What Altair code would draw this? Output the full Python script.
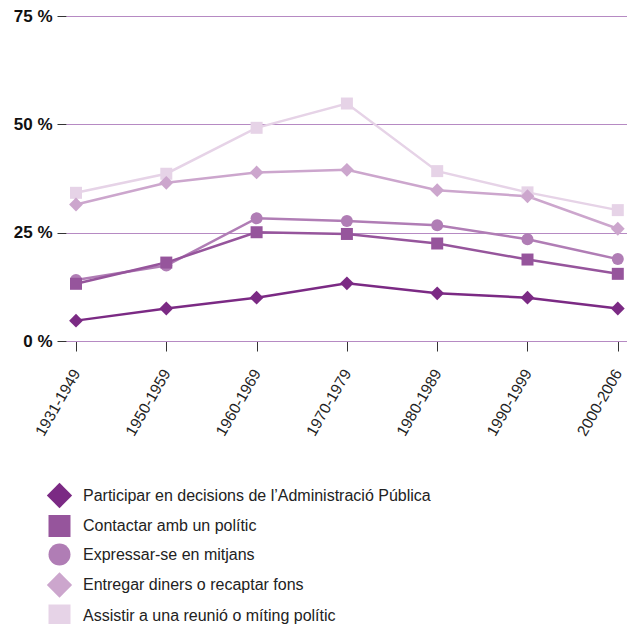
import altair as alt
import pandas as pd

periods = ["1931-1949", "1950-1959", "1960-1969", "1970-1979", "1980-1989", "1990-1999", "2000-2006"]

series = [
    "Participar en decisions de l’Administració Pública",
    "Contactar amb un polític",
    "Expressar-se en mitjans",
    "Entregar diners o recaptar fons",
    "Assistir a una reunió o míting polític",
]

participar = [4.7, 7.5, 10.0, 13.3, 11.0, 10.0, 7.5]
contactar = [13.2, 18.1, 25.1, 24.7, 22.5, 18.8, 15.5]
expressar = [14.1, 17.4, 28.3, 27.7, 26.7, 23.5, 18.9]
entregar = [31.5, 36.5, 38.9, 39.5, 34.8, 33.4, 25.9]
assistir = [34.2, 38.6, 49.2, 54.8, 39.2, 34.3, 30.2]

all_values = [participar, contactar, expressar, entregar, assistir]

colors = ["#7B2A84", "#96559C", "#B07DB5", "#CCA6CD", "#E6D3E7"]
DIAMOND = "M-1.15,0L0,-1.15L1.15,0L0,1.15Z"
shapes = [DIAMOND, "square", "circle", DIAMOND, "square"]

rows = []
for si in reversed(range(len(series))):
    for i, (p, v) in enumerate(zip(periods, all_values[si])):
        rows.append({"idx": i, "period": p, "series": series[si], "value": v, "hex": colors[si]})
df = pd.DataFrame(rows)

FONT = "Liberation Sans"
GRID = "#B68AC3"
W = 561
H = 325
STEP = 90.3
x_lo = -10 / STEP
x_hi = x_lo + W / STEP

label_js = "[" + ",".join("'%s'" % p for p in periods) + "]"

legend = alt.Legend(
    title=None,
    orient="none",
    legendX=-17.5,
    legendY=468.5,
    symbolSize=484,
    labelFontSize=16,
    labelColor="#222222",
    labelFont=FONT,
    labelOffset=12.5,
    rowPadding=6.5,
    padding=0,
    symbolStrokeWidth=0,
    labelLimit=0,
)

x = alt.X(
    "idx:Q",
    scale=alt.Scale(domain=[x_lo, x_hi], nice=False, zero=False),
    axis=alt.Axis(
        title=None,
        values=list(range(len(periods))),
        labelExpr=label_js + "[datum.value]",
        labelAngle=300,
        labelAlign="right",
        labelBaseline="middle",
        labelFontSize=15.5,
        labelFont=FONT,
        labelColor="#222222",
        labelPadding=19,
        labelFlush=False,
        labelOverlap=False,
        tickSize=10,
        tickColor="#333333",
        domainColor=GRID,
        grid=False,
    ),
)

y = alt.Y(
    "value:Q",
    scale=alt.Scale(domain=[0, 75], nice=False, zero=True),
    axis=alt.Axis(
        title=None,
        values=[0, 25, 50, 75],
        labelExpr="datum.value + ' %'",
        labelFontSize=17,
        labelFontWeight="bold",
        labelFont=FONT,
        labelColor="#111111",
        labelPadding=5,
        tickSize=9,
        tickColor="#333333",
        domain=False,
        grid=True,
        gridColor=GRID,
        gridWidth=1,
    ),
)

base = alt.Chart(df)

lines = base.mark_line(strokeWidth=2.5).encode(
    x=x,
    y=y,
    color=alt.Color("hex:N", scale=None),
    detail="series:N",
)

points = base.mark_point(filled=True, size=144, opacity=1).encode(
    x=x,
    y=y,
    color=alt.Color("series:N", scale=alt.Scale(domain=series, range=colors), legend=legend),
    shape=alt.Shape("series:N", scale=alt.Scale(domain=series, range=shapes), legend=legend),
)

chart = (
    alt.layer(lines, points)
    .properties(
        width=W,
        height=H,
        padding={"left": 58, "top": 8, "right": 0, "bottom": 285},
        autosize=alt.AutoSizeParams(type="none"),
    )
    .configure_view(stroke=None)
)

chart.save("out.html", embed_options={"renderer": "svg", "actions": False})
